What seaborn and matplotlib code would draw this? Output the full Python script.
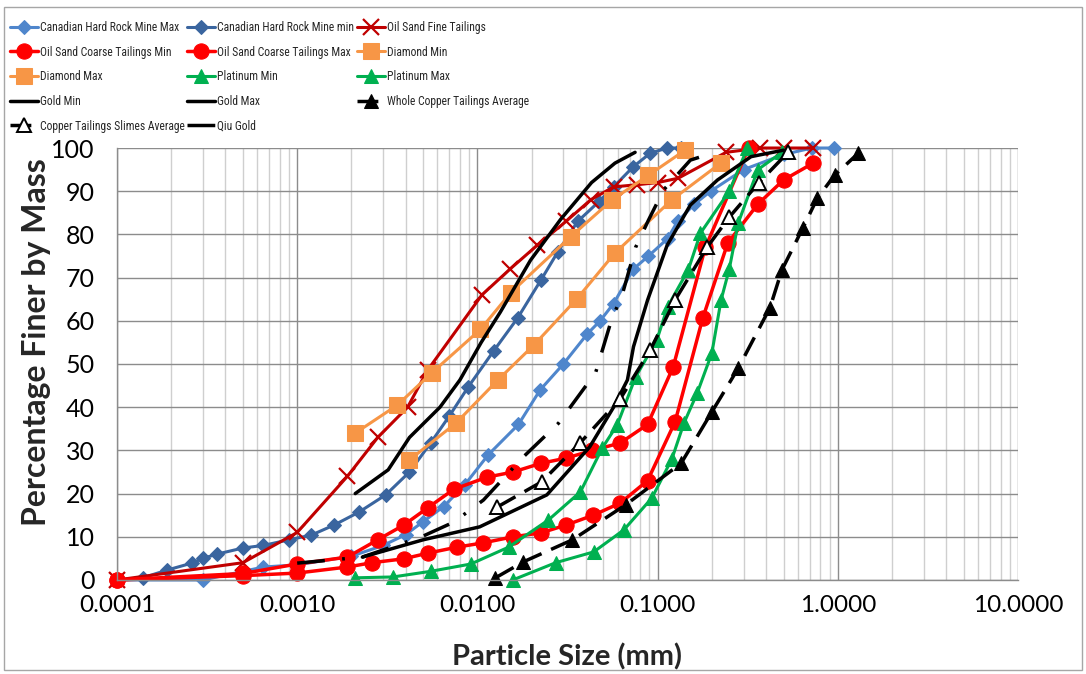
import numpy as np
import matplotlib
matplotlib.use("Agg")
import matplotlib.pyplot as plt
import seaborn as sns
from matplotlib import font_manager
from matplotlib.patches import Rectangle
from matplotlib.ticker import FixedLocator, FixedFormatter, LogLocator, NullFormatter, MultipleLocator

# values: x = particle size (mm), y = % finer by mass
can_max_x = [0.0001, 0.0003, 0.00065, 0.001, 0.002, 0.003, 0.004, 0.005, 0.0065, 0.0085, 0.0115,
             0.0169, 0.0223, 0.030, 0.0408, 0.048, 0.057, 0.0735, 0.089, 0.1135, 0.129, 0.16,
             0.197, 0.3, 0.5, 0.72, 0.95]
can_max_y = [0, 0, 3, 3.5, 5.5, 8, 10.5, 13.5, 17, 22, 29, 36, 44, 50, 57, 60, 64, 72, 75, 79, 83, 87,
             90, 95, 98.5, 100, 100]

can_min_x = [0.0001, 0.000139, 0.00019, 0.00026, 0.0003, 0.00036, 0.0005, 0.00065, 0.0009, 0.0012,
             0.0016, 0.0022, 0.0031, 0.0042, 0.0055, 0.007, 0.0089, 0.0123, 0.0167, 0.0225, 0.028,
             0.036, 0.047, 0.057, 0.073, 0.091, 0.113, 0.134]
can_min_y = [0, 0.5, 2.3, 3.9, 5, 6, 7.4, 8, 9.3, 10.4, 12.7, 15.7, 19.7, 25, 31.7, 38, 44.7, 53, 60.6,
             69.4, 76, 83, 87.5, 91, 95.6, 98.8, 100, 100]

oil_fine_x = [0.0001, 0.0005, 0.001, 0.0019, 0.0028, 0.0041, 0.0053, 0.0106, 0.0152, 0.0215, 0.031,
              0.0425, 0.057, 0.077, 0.1, 0.13, 0.24, 0.37, 0.5, 0.73]
oil_fine_y = [0, 4, 11, 24, 33, 40, 48.6, 66, 72, 77.5, 83, 88, 91, 91.5, 92, 93, 99, 100, 100, 100]

coarse_min_x = [0.0001, 0.0005, 0.001, 0.0019, 0.0028, 0.0039, 0.0053, 0.0074, 0.0113, 0.0158, 0.0225,
                0.031, 0.0435, 0.062, 0.088, 0.122, 0.184, 0.32]
coarse_min_y = [0, 1.5, 3.7, 5.3, 9.3, 12.7, 16.7, 21, 23.8, 25, 27, 28.2, 30, 31.7, 36, 49.3, 77, 100]

coarse_max_x = [0.0001, 0.0005, 0.001, 0.0019, 0.0026, 0.0039, 0.0053, 0.0077, 0.0108, 0.0158, 0.0225,
                0.031, 0.044, 0.062, 0.088, 0.125, 0.178, 0.245, 0.36, 0.5, 0.73]
coarse_max_y = [0, 1, 1.6, 3, 4, 4.9, 6.2, 7.6, 8.6, 10, 10.9, 12.7, 15, 17.8, 23, 36.6, 60.6, 78, 87,
                92.6, 96.5]

diamond_min_x = [0.0021, 0.0036, 0.0056, 0.0104, 0.0153, 0.033, 0.056, 0.089, 0.142]
diamond_min_y = [34, 40.5, 48, 58, 66.5, 79.5, 88, 93.7, 99.5]

diamond_max_x = [0.0042, 0.0076, 0.013, 0.0206, 0.0355, 0.058, 0.12, 0.224]
diamond_max_y = [27.8, 36.3, 46.3, 54.4, 65, 75.7, 88, 96.5]

plat_min_x = [0.0021, 0.0034, 0.0055, 0.0092, 0.0149, 0.0248, 0.0373, 0.0494, 0.0597, 0.0755, 0.099,
              0.1135, 0.148, 0.173, 0.25, 0.315]
plat_min_y = [0.5, 0.7, 2, 3.7, 7.6, 13.9, 20.4, 30.6, 35.9, 47, 55.5, 63.2, 71.8, 80.3, 90, 100]

plat_max_x = [0.0157, 0.0272, 0.0442, 0.065, 0.093, 0.12, 0.14, 0.166, 0.2, 0.225, 0.25, 0.28, 0.36, 0.49]
plat_max_y = [0, 4, 6.5, 11.6, 19, 28, 36.3, 43.3, 52.5, 64.8, 72, 82.6, 95, 99]

gold_min_x = [0.0021, 0.0032, 0.0042, 0.0062, 0.008, 0.0105, 0.0134, 0.0197, 0.029, 0.043, 0.058, 0.075]
gold_min_y = [20, 25.5, 33, 40, 46.3, 55, 62, 74, 83.5, 92, 96.5, 99]

gold_max_x = [0.0023, 0.005, 0.0103, 0.0243, 0.042, 0.057, 0.068, 0.0735, 0.088, 0.113, 0.152, 0.215,
              0.33, 0.5]
gold_max_y = [5.3, 9.3, 12.3, 19.7, 30.8, 40, 46.3, 54, 64.8, 77.5, 86.8, 92.6, 98, 99.5]

whole_cu_x = [0.0126, 0.018, 0.0337, 0.0665, 0.135, 0.2, 0.28, 0.42, 0.49, 0.64, 0.77, 0.96, 1.3]
whole_cu_y = [0.5, 4.2, 9.3, 17.4, 27, 38.9, 49, 63, 71.8, 81.5, 88.4, 93.7, 98.8]

cu_slimes_x = [0.0129, 0.0227, 0.0371, 0.0622, 0.091, 0.125, 0.188, 0.25, 0.365, 0.53]
cu_slimes_y = [16.9, 22.7, 31.7, 42, 53.2, 64.8, 77, 84, 92, 99]

qiu_x = [0.001, 0.0023, 0.0049, 0.0074, 0.0108, 0.018, 0.0282, 0.0453, 0.055, 0.064, 0.0755, 0.089,
         0.108, 0.152, 0.2]
qiu_y = [3.9, 5.3, 10, 13.4, 18.5, 28.5, 36.3, 48, 59.7, 66.4, 77, 83.3, 90.3, 97.2, 98.8]

x_ticks = [0.0001, 0.001, 0.01, 0.1, 1, 10]
x_tick_labels = ['0.0001', '0.0010', '0.0100', '0.1000', '1.0000', '10.0000']
y_ticks = list(range(0, 101, 10))

sns.set_style("white")
plt.rcParams['font.family'] = ['Lato', 'DejaVu Sans']

# the legend text in the original is condensed; use a narrow face if one is installed
installed = {f.name for f in font_manager.fontManager.ttflist}
if 'Roboto Condensed' in installed:
    legend_font = {'family': 'Roboto Condensed', 'size': 8.4}
    legend_spacing = 1.0
elif 'Liberation Sans Narrow' in installed:
    legend_font = {'family': 'Liberation Sans Narrow', 'size': 8.4}
    legend_spacing = 1.0
else:
    legend_font = {'family': 'Lato', 'size': 7.2}
    legend_spacing = 1.45

fig = plt.figure(figsize=(10.86, 6.74), dpi=100)
ax = fig.add_axes([0.1077, 0.1395, 0.8297, 0.6409])
ax.set_xscale('log')


def draw(x, y, label, color, **kw):
    kw.setdefault('markeredgecolor', color)
    sns.lineplot(x=x, y=y, ax=ax, color=color, label=label, estimator=None,
                 sort=False, clip_on=False, **kw)


light_blue = '#4F86CC'
dark_blue = '#3A659F'
dark_red = '#C00000'
red = '#FF0000'
orange = '#F79646'
green = '#00B050'

draw(can_max_x, can_max_y, 'Canadian Hard Rock Mine Max', light_blue, marker='D', markersize=7, linewidth=2.2)
draw(can_min_x, can_min_y, 'Canadian Hard Rock Mine min', dark_blue, marker='D', markersize=7, linewidth=2.2)
draw(oil_fine_x, oil_fine_y, 'Oil Sand Fine Tailings', dark_red, marker='x', markersize=12,
     markeredgewidth=1.6, linewidth=2.2)
draw(coarse_min_x, coarse_min_y, 'Oil Sand Coarse Tailings Min', red, marker='o', markersize=11, linewidth=2.5)
draw(coarse_max_x, coarse_max_y, 'Oil Sand Coarse Tailings Max', red, marker='o', markersize=11, linewidth=2.5)
draw(diamond_min_x, diamond_min_y, 'Diamond Min', orange, marker='s', markersize=12, linewidth=2.2)
draw(diamond_max_x, diamond_max_y, 'Diamond Max', orange, marker='s', markersize=12, linewidth=2.2)
draw(plat_min_x, plat_min_y, 'Platinum Min', green, marker='^', markersize=10, linewidth=2.2)
draw(plat_max_x, plat_max_y, 'Platinum Max', green, marker='^', markersize=10, linewidth=2.2)
draw(gold_min_x, gold_min_y, 'Gold Min', 'black', linewidth=2.5)
draw(gold_max_x, gold_max_y, 'Gold Max', 'black', linewidth=2.5)
draw(whole_cu_x, whole_cu_y, 'Whole Copper Tailings Average', 'black', marker='^', markersize=10,
     linewidth=2.5, linestyle=(0, (6, 3)))
draw(cu_slimes_x, cu_slimes_y, 'Copper Tailings Slimes Average', 'black', marker='^', markersize=10,
     markerfacecolor='white', markeredgewidth=1.4, linewidth=2.5, linestyle=(0, (6, 3)))
draw(qiu_x, qiu_y, 'Qiu Gold', 'black', linewidth=2.5, linestyle=(0, (8, 5, 0.8, 5)))

ax.set_xlim(1e-4, 10)
ax.set_ylim(0, 100)
ax.xaxis.set_major_locator(FixedLocator(x_ticks))
ax.xaxis.set_major_formatter(FixedFormatter(x_tick_labels))
ax.xaxis.set_minor_locator(LogLocator(base=10, subs=np.arange(2, 10) * 1.0, numticks=50))
ax.xaxis.set_minor_formatter(NullFormatter())
ax.yaxis.set_major_locator(FixedLocator(y_ticks))
ax.yaxis.set_minor_locator(MultipleLocator(5))

ax.grid(which='major', axis='both', color='#8C8C8C', linewidth=1)
ax.grid(which='minor', axis='x', color='#CFCFCF', linewidth=1)
ax.set_axisbelow(True)

ax.tick_params(axis='x', which='major', direction='out', length=7, width=1, color='#8C8C8C',
               labelsize=17.5, pad=4, labelcolor='black')
ax.tick_params(axis='y', which='major', direction='out', length=7, width=1, color='#8C8C8C',
               labelsize=18, pad=9, labelcolor='black')
ax.tick_params(axis='x', which='minor', length=0)
ax.tick_params(axis='y', which='minor', direction='in', length=6, width=1, color='#8C8C8C')
for side in ['top', 'right']:
    ax.spines[side].set_visible(False)
for side in ['left', 'bottom']:
    ax.spines[side].set_color('#8C8C8C')
    ax.spines[side].set_linewidth(1)

ax.set_xlabel('Particle Size (mm)', fontsize=21, fontweight='bold')
ax.set_ylabel('Percentage Finer by Mass', fontsize=23, fontweight='bold')
ax.xaxis.set_label_coords(0.5, -0.146)
ax.yaxis.set_label_coords(-0.073, 0.551)

handles, labels = ax.get_legend_handles_labels()
ax.get_legend().remove()
order = [0, 3, 6, 9, 12, 1, 4, 7, 10, 13, 2, 5, 8, 11]
fig.legend([handles[i] for i in order], [labels[i] for i in order], ncol=3, loc='upper left',
           bbox_to_anchor=(0.0092, 0.969), frameon=False, prop=legend_font,
           handlelength=20 / legend_font['size'], handletextpad=0.2, columnspacing=0.2,
           labelspacing=legend_spacing, borderpad=0, borderaxespad=0)

fig.patches.append(Rectangle((0.004, 0.006), 0.992, 0.984, transform=fig.transFigure,
                             fill=False, edgecolor='#A6A6A6', linewidth=1))

fig.savefig('out.png', dpi=100)
